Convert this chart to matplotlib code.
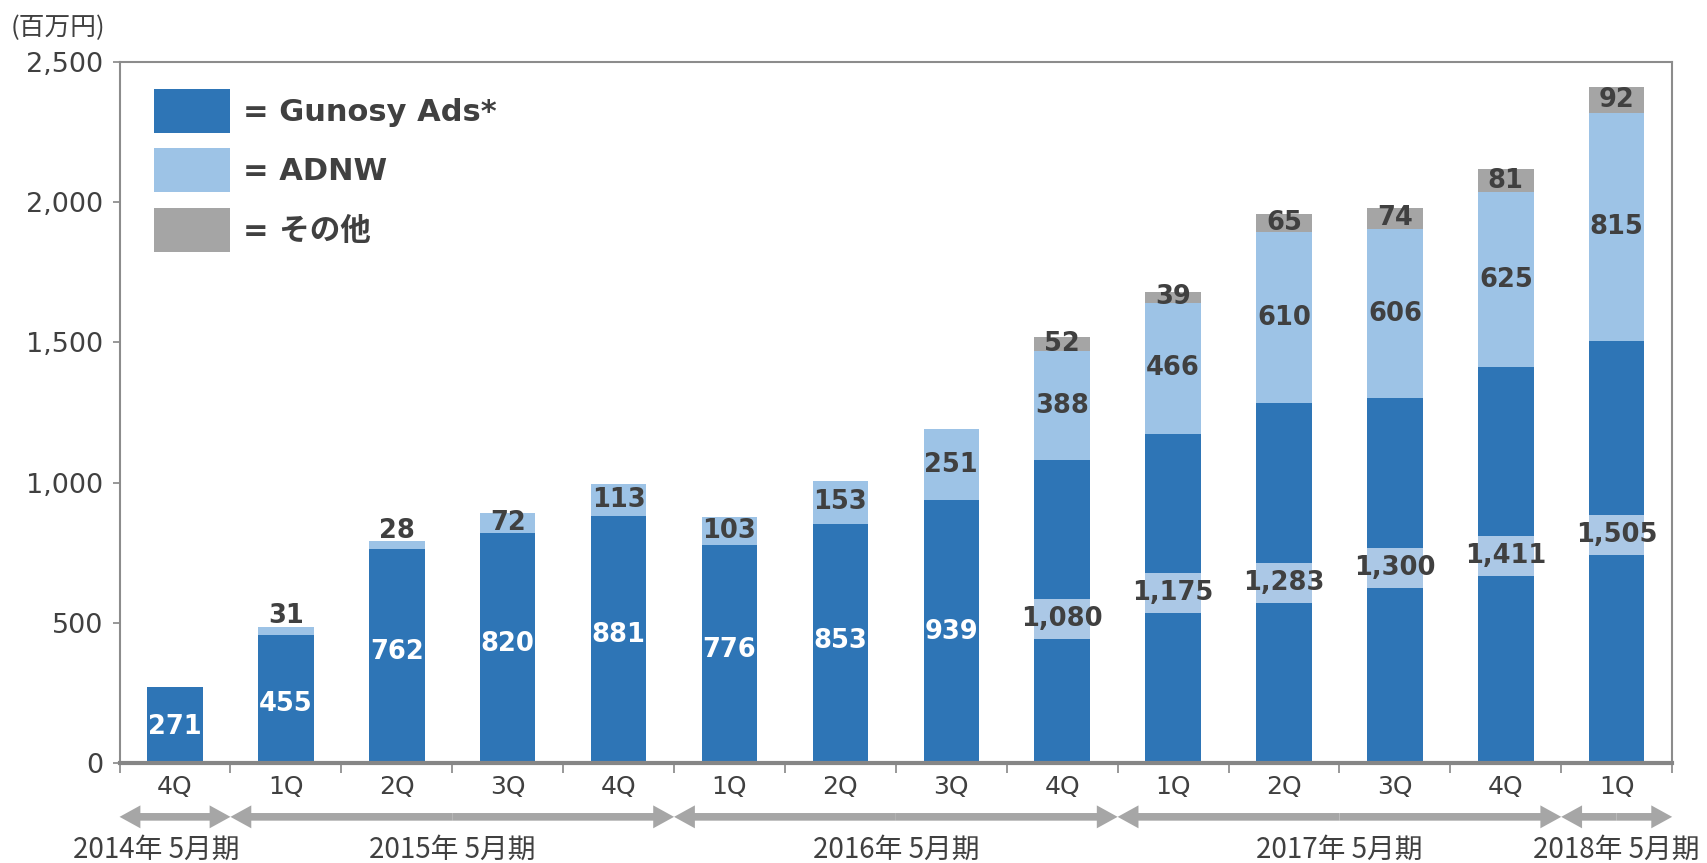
import numpy as np
import matplotlib
matplotlib.use('Agg')
import matplotlib.pyplot as plt

# data (百万円)
quarters = ['4Q', '1Q', '2Q', '3Q', '4Q', '1Q', '2Q', '3Q', '4Q', '1Q', '2Q', '3Q', '4Q', '1Q']
gunosy_ads = [271, 455, 762, 820, 881, 776, 853, 939, 1080, 1175, 1283, 1300, 1411, 1505]
adnw = [0, 31, 28, 72, 113, 103, 153, 251, 388, 466, 610, 606, 625, 815]
other = [0, 0, 0, 0, 0, 0, 0, 0, 52, 39, 65, 74, 81, 92]
fiscal_years = ['2014年 5月期', '2015年 5月期', '2016年 5月期', '2017年 5月期', '2018年 5月期']
quarters_per_year = [1, 4, 4, 4, 1]

# where the Gunosy Ads numbers sit inside the bars
ads_label_y = [128, 210, 397, 424, 455, 404, 435, 467, 513, 607, 641, 696, 739, 813]
boxed_from = 8  # from this bar on the label gets a light box

DARK = '#2E75B6'
LIGHT = '#9DC3E6'
GRAY = '#A5A5A5'
BOX = '#ABC8E6'
TXT = '#404040'
ARROW = '#A6A6A6'

plt.rcParams['font.family'] = ['DejaVu Sans', 'Noto Sans CJK JP']

fig = plt.figure(figsize=(17.08, 8.63), dpi=100)
ax = fig.add_axes([0.070, 0.116, 0.909, 0.812])

x = np.arange(len(quarters))
ads = np.array(gunosy_ads)
nw = np.array(adnw)
ot = np.array(other)
bw = 0.5

ax.bar(x, ads, bw, color=DARK, label='= Gunosy Ads*', zorder=2)
ax.bar(x, nw, bw, bottom=ads, color=LIGHT, label='= ADNW', zorder=2)
ax.bar(x, ot, bw, bottom=ads + nw, color=GRAY, label='= その他', zorder=2)

# label boxes for the later quarters
box_h = 143
xb = x[boxed_from:]
yb = np.array(ads_label_y[boxed_from:])
ax.bar(xb, [box_h] * len(xb), bw, bottom=yb - box_h / 2, color=BOX, zorder=3)

lab_fs = 18.5
for i in range(len(x)):
    col = 'white' if i < boxed_from else TXT
    ax.text(x[i], ads_label_y[i], f'{ads[i]:,}', ha='center', va='center',
            color=col, fontsize=lab_fs, fontweight='bold', zorder=4)
    if nw[i] > 0:
        if nw[i] < 50:
            ax.annotate(f'{nw[i]}', (x[i], ads[i] + nw[i]), xytext=(0, -2),
                        textcoords='offset points', ha='center', va='bottom',
                        color=TXT, fontsize=lab_fs, fontweight='bold', zorder=4)
        else:
            ax.text(x[i], ads[i] + nw[i] / 2, f'{nw[i]}', ha='center', va='center',
                    color=TXT, fontsize=lab_fs, fontweight='bold', zorder=4)
    if ot[i] > 0:
        ax.text(x[i], ads[i] + nw[i] + ot[i] / 2, f'{ot[i]}', ha='center', va='center',
                color=TXT, fontsize=lab_fs, fontweight='bold', zorder=4)

ax.set_xlim(-0.5, len(x) - 0.5)
ax.set_ylim(0, 2500)
ax.set_yticks(np.arange(0, 2501, 500))
ax.set_yticklabels([f'{v:,}' for v in range(0, 2501, 500)])
ax.set_xticks(x)
ax.set_xticklabels(quarters)
ax.set_xticks(np.arange(-0.5, len(x), 1), minor=True)
ax.tick_params(axis='x', which='major', length=0, pad=9, labelsize=18, labelcolor=TXT)
ax.tick_params(axis='x', which='minor', length=7, width=1.2, color='#868686')
ax.tick_params(axis='y', length=5, width=1.2, color='#868686', pad=7, labelsize=19.5, labelcolor=TXT)

for s in ['left', 'top', 'right']:
    ax.spines[s].set_color('#8C8C8C')
    ax.spines[s].set_linewidth(1.5)
ax.spines['bottom'].set_color('#868686')
ax.spines['bottom'].set_linewidth(3)
ax.spines['bottom'].set_zorder(5)

leg = ax.legend(loc='upper left', bbox_to_anchor=(0.014, 0.979), frameon=False,
                fontsize=22, handlelength=2.5, handleheight=1.84, handletextpad=0.42,
                labelspacing=0.5, borderaxespad=0)
for t in leg.get_texts():
    t.set_color(TXT)
    t.set_fontweight('bold')

# fiscal year arrows under the axis
edges = np.concatenate([[0], np.cumsum(quarters_per_year)]) - 0.5
arrow_y = -0.077
style = 'simple,head_length=1.5,head_width=1.65,tail_width=0.55'
for k, name in enumerate(fiscal_years):
    a, b = edges[k], edges[k + 1]
    mid = (a + b) / 2
    for end in (a, b):
        ax.annotate('', xy=(end, arrow_y), xytext=(mid, arrow_y),
                    xycoords=('data', 'axes fraction'), textcoords=('data', 'axes fraction'),
                    arrowprops=dict(arrowstyle=style, color=ARROW, lw=0,
                                    shrinkA=0, shrinkB=0, mutation_scale=10),
                    annotation_clip=False)
    tx = mid if k > 0 else mid - 0.17
    ax.text(tx, -0.124, name, transform=ax.get_xaxis_transform(), ha='center', va='center',
            fontsize=20, color=TXT, family=['Noto Sans CJK JP', 'DejaVu Sans'])

fig.text(0.006, 0.968, '(百万円)', ha='left', va='center', fontsize=18.5, color=TXT,
         family=['Noto Sans CJK JP', 'DejaVu Sans'])

fig.savefig('out.png', dpi=100)
